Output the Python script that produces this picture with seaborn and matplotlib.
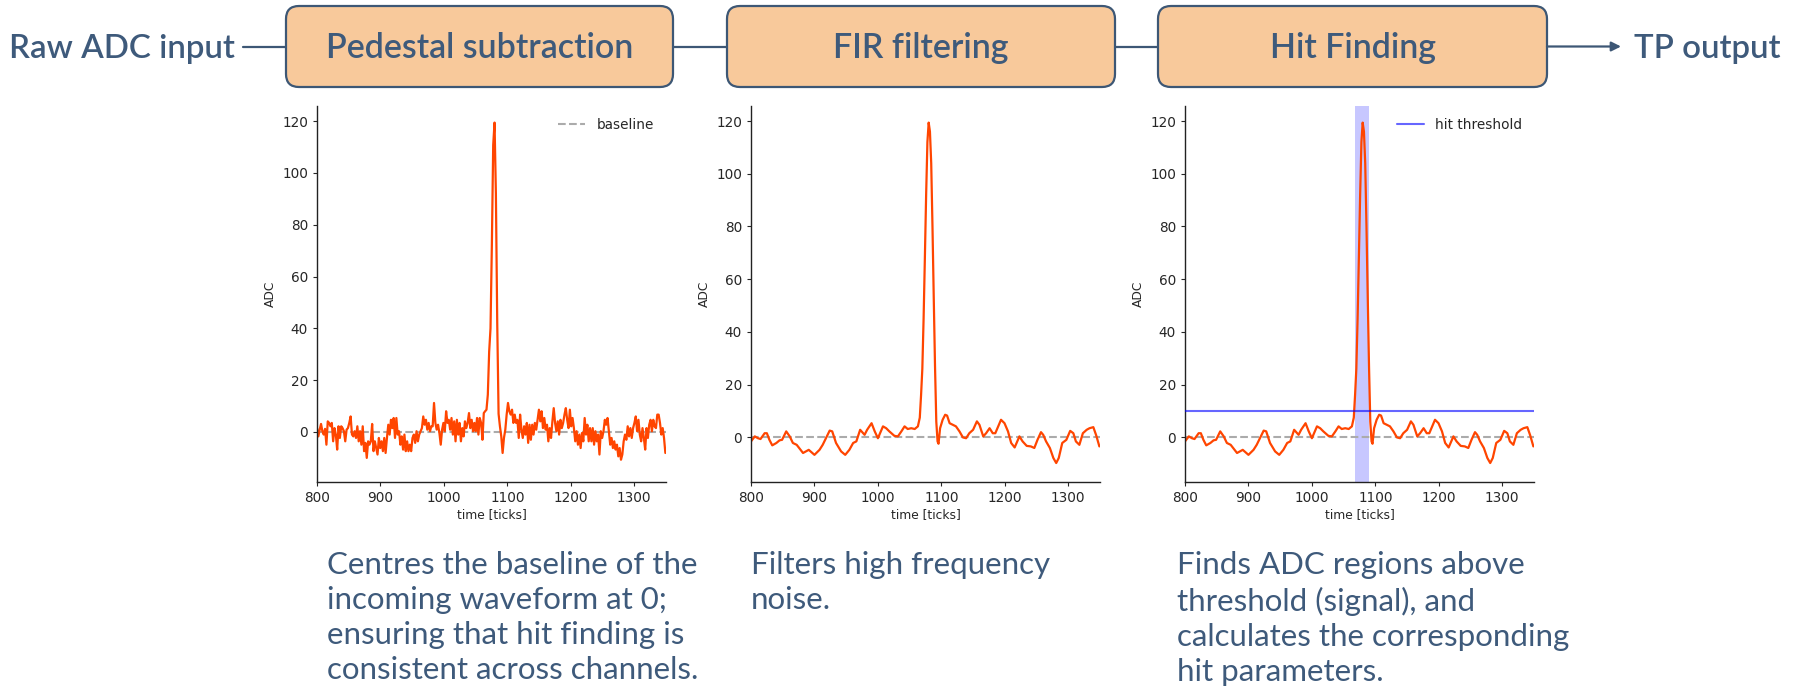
import numpy as np
import matplotlib
matplotlib.use("Agg")
import matplotlib.pyplot as plt
from matplotlib.patches import FancyBboxPatch
import seaborn as sns

# ---------------------------------------------------------------------------
# Data
# ---------------------------------------------------------------------------
# Pedestal-subtracted ADC samples, evenly spread over ticks 800-1349
raw_adc = [
    1.5, -1.7, 0.9, 3.1, 0.3, -1.0, 1.2, -4.9, 4.1, 3.5, 2.2, 3.5, -3.6,
    1.5, -1.0, -6.8, 2.2, -2.3, 2.2, 1.5, 0.3, -3.6, 0.9, 1.5,
    3.5, 6.0,
    -1.0, -1.7, 0.3, -2.3, 2.2, -3.6, 0.3, -4.9,
    2.2, -7.4, -4.2, -10.0,
    -3.6, -4.9, -3.6,
    3.1, -7.4,
    -3.6, -6.2, -8.7, -2.3, -6.2, -3.6, -7.4, -2.3, -8.1, -2.3,
    2.8, -1.0, 4.7, 1.5, 5.4, -2.3, 5.4, -1.0, 0.3, -4.9,
    -1.7, -6.8, -1.0, -7.4, -3.6, -7.4, -4.9, -7.4, -2.3, -1.0,
    -4.2, 0.3, -3.6, -1.0, 0.3, 1.5, 6.0, 2.8, 4.7, 0.9,
    3.5, 0.3, 2.2, 2.2, 11.2, 3.5, 0.9, 2.8, -0.4, -4.9,
    0.9, 3.5, 0.3, 8.0, 3.5, 4.7, 0.9, 5.4, -1.0, 4.1,
    -3.6, 4.7, -1.0, 3.5, -3.6, 1.5, -1.7, 4.1, 1.5, 3.5,
    7.3, 1.5, 4.7, 0.3, 3.5, 0.3, 5.4, -1.0, 5.4, 3.5,
    -3.0, 7.3, 8.0, 8.6, 14.4, 31.0, 40.0, 72.0, 110.7, 119.4,
    92.0, 42.0, 7.0, 2.2, -1.7, -8.1, -2.3, 0.9, 6.7, 11.2,
    8.0, 6.7, 8.6, 3.5, 6.7, 3.5, 4.7, -2.3, 6.7, 0.9,
    -2.3, 2.2, -1.0, 3.5, -4.2, 2.8, -3.0, 2.8, -1.0, 3.5,
    0.9, 4.7, 8.6, 4.1, 8.0, 1.5, 5.4, 0.9, 2.8, -3.6,
    1.5, -2.3, 4.1, 9.2, 3.5, 0.3, 4.1, -1.0, 4.7, 1.5,
    3.5, 6.7, 9.2, 4.7, 1.5, 8.6, 2.2, 5.4, 1.5, -3.6,
    0.3, -4.9, -1.0, -6.2, -0.4, -3.6, 5.4, -1.0, 2.8, -3.6,
    1.5, -3.6, 1.5, -4.9, 0.3, -3.6, -1.0, -8.7, 0.3, -2.3,
    0.3, 4.7, 2.8, 5.4, 0.3, -4.9, -2.3, -6.2, -3.6, -6.8,
    -4.9, -9.4, -6.2, -10.7, -8.7, -3.6, -1.0, -3.0, 2.2, -1.7,
    1.5, -2.3, 1.5, 3.5, 6.0, 0.3, 4.7, -1.0, -3.6, 1.5,
    -2.3, -6.8, 1.5, -2.3, 2.8, 4.7, 0.3, 4.7, 2.2, 1.5,
    6.7, 6.7, 3.5, -1.0, 1.5, -2.3, -8.1,
]
raw_ticks = np.linspace(800, 1349, len(raw_adc))

# FIR-filtered waveform
filt_ticks = [
    800, 806, 811, 815, 821.5, 825, 829, 833.5, 840, 845,
    849, 855.5, 861, 866, 872, 882, 891, 900, 908, 913,
    924, 928, 934, 942, 948.5, 955, 961, 966, 972, 979,
    983, 990, 995, 1000, 1008, 1013, 1018, 1026, 1031.5, 1037,
    1042, 1047, 1052.5, 1058, 1063, 1066, 1068, 1070, 1072, 1074,
    1076, 1078, 1080, 1082, 1084, 1086, 1088, 1090, 1092, 1094,
    1095.5, 1098, 1102, 1106, 1109, 1113, 1118, 1123, 1128.5, 1134,
    1139, 1144, 1150, 1156, 1160, 1166, 1170.5, 1176, 1181, 1185,
    1194, 1199.5, 1205, 1210, 1215.5, 1223, 1228, 1234.5, 1241, 1246.5,
    1251.5, 1257, 1260.5, 1265, 1271, 1276.5, 1281, 1285, 1290.5, 1297,
    1303, 1308, 1312, 1317.5, 1323, 1329, 1333.5, 1339.5, 1344, 1349,
]
filt_adc = [
    -1.5, 0.4, -0.3, -0.6, 1.6, 1.6, -0.9, -3.0, -2.1, -1.1,
    -0.9, 2.3, 0.4, -2.1, -2.8, -5.9, -4.7, -6.6, -4.7, -2.8,
    2.6, 2.3, -2.1, -5.3, -6.6, -4.7, -2.1, -1.5, 2.9, 1.0,
    2.9, 5.4, 2.3, -0.3, 4.2, 3.5, 2.3, 0.6, 0.4, 2.3,
    4.2, 3.2, 3.5, 3.2, 4.2, 7.5, 16.0, 26.0, 45.0, 68.0,
    92.0, 112.0, 119.4, 116.0, 104.0, 80.0, 53.0, 27.0, 6.0, -1.5,
    -2.4, 3.5, 6.7, 8.6, 8.3, 5.4, 4.8, 4.2, 2.3, 0.0,
    -0.3, 1.6, 2.9, 6.1, 4.8, 0.4, 1.6, 3.5, 1.6, 1.6,
    6.7, 5.4, 2.3, -2.1, -3.8, 0.4, -1.5, -3.2, -3.4, -4.0,
    -0.9, 2.0, 1.0, -1.5, -4.0, -7.8, -9.7, -7.8, -2.1, -0.9,
    2.5, 1.6, -1.5, -2.8, 1.6, 2.9, 3.5, 3.9, 0.8, -3.4,
]

baseline_level = 0
hit_threshold = 10
hit_window = (1068, 1090)

x_ticks = [800, 900, 1000, 1100, 1200, 1300]
y_ticks = [0, 20, 40, 60, 80, 100, 120]

input_label = "Raw ADC input"
output_label = "TP output"
stage_names = ["Pedestal subtraction", "FIR filtering", "Hit Finding"]
stage_notes = [
    "Centres the baseline of the\nincoming waveform at 0;\nensuring that hit finding is\nconsistent across channels.",
    "Filters high frequency\nnoise.",
    "Finds ADC regions above\nthreshold (signal), and\ncalculates the corresponding\nhit parameters.",
]

# ---------------------------------------------------------------------------
# Style
# ---------------------------------------------------------------------------
sns.set_style("ticks")
plt.rcParams["font.family"] = ["DejaVu Sans"]
plt.rcParams["xtick.labelsize"] = 9.8
plt.rcParams["ytick.labelsize"] = 9.8
plt.rcParams["axes.labelsize"] = 8.8
plt.rcParams["xtick.major.size"] = 3
plt.rcParams["ytick.major.size"] = 3
plt.rcParams["axes.edgecolor"] = "#222222"
plt.rcParams["axes.linewidth"] = 1.0

W, H = 1798, 686
fig = plt.figure(figsize=(W / 100, H / 100), dpi=100)

WAVE = "#FF4500"
BASE = "#ababab"
INK = "#3E5A7B"
BOX_EDGE = "#3D5775"
BOX_FILL = "#F8C99B"
UI_FONT = "Lato"

# Axes rectangles in pixels: left, right, top, bottom
panels_px = [(317, 666, 106, 482), (751, 1100, 106, 482), (1185, 1534, 106, 482)]
ylims = [(-19.3, 125.8), (-16.9, 125.7), (-16.9, 125.7)]

axes = []
for (l, r, t, b) in panels_px:
    ax = fig.add_axes([l / W, 1 - b / H, (r - l) / W, (b - t) / H])
    axes.append(ax)

for i, ax in enumerate(axes):
    ax.axhline(baseline_level, color=BASE, ls="--", lw=1.5,
               label="baseline" if i == 0 else None, zorder=1)
    if i == 0:
        sns.lineplot(x=raw_ticks, y=raw_adc, ax=ax, color=WAVE, lw=1.6,
                     estimator=None, sort=False, zorder=2)
    else:
        sns.lineplot(x=filt_ticks, y=filt_adc, ax=ax, color=WAVE, lw=1.6,
                     estimator=None, sort=False, zorder=2)
    if i == 2:
        ax.axhline(hit_threshold, color="blue", alpha=0.6, lw=1.5,
                   label="hit threshold", zorder=3)
        ax.axvspan(*hit_window, color="blue", alpha=0.22, lw=0, zorder=0)
    ax.set_xlim(800, 1350)
    ax.set_ylim(*ylims[i])
    ax.set_xticks(x_ticks)
    ax.set_yticks(y_ticks)
    ax.set_xlabel("time [ticks]", labelpad=2)
    ax.set_ylabel("ADC")
    sns.despine(ax=ax)
    if i in (0, 2):
        handles, labels = ax.get_legend_handles_labels()
        keep = [(h, lb) for h, lb in zip(handles, labels)
                if lb in ("baseline", "hit threshold")]
        ax.legend([k[0] for k in keep], [k[1] for k in keep],
                  loc="upper right", frameon=False, fontsize=9.8)
    else:
        if ax.get_legend() is not None:
            ax.get_legend().remove()

# ---------------------------------------------------------------------------
# Flow diagram overlay in pixel units
# ---------------------------------------------------------------------------
ov = fig.add_axes([0, 0, 1, 1], facecolor="none")
ov.set_xlim(0, W)
ov.set_ylim(H, 0)
ov.axis("off")

boxes_px = [(286, 673), (727, 1115), (1158, 1547)]
box_top, box_bot = 6, 87
yc = (box_top + box_bot) / 2

for (x0, x1), name in zip(boxes_px, stage_names):
    ov.add_patch(FancyBboxPatch((x0, box_top), x1 - x0, box_bot - box_top,
                                boxstyle="round,pad=0,rounding_size=13",
                                fc=BOX_FILL, ec=BOX_EDGE, lw=1.6, zorder=2))
    ov.text((x0 + x1) / 2, yc + 2, name, ha="center", va="center",
            fontsize=24.5, color=INK, family=UI_FONT, weight="semibold", zorder=3)

ov.text(9, yc + 2, input_label, ha="left", va="center", fontsize=23.8,
        color=INK, family=UI_FONT, weight="semibold")
ov.text(1634, yc + 2, output_label, ha="left", va="center", fontsize=23.8,
        color=INK, family=UI_FONT, weight="semibold")

ov.plot([243, boxes_px[0][0]], [yc, yc], color=BOX_EDGE, lw=1.6, zorder=1)
ov.plot([boxes_px[0][1], boxes_px[1][0]], [yc, yc], color=BOX_EDGE, lw=1.6, zorder=1)
ov.plot([boxes_px[1][1], boxes_px[2][0]], [yc, yc], color=BOX_EDGE, lw=1.6, zorder=1)
ov.annotate("", xy=(1621, yc), xytext=(boxes_px[2][1], yc),
            arrowprops=dict(arrowstyle="-|>", color=BOX_EDGE, lw=1.6,
                            mutation_scale=14, shrinkA=0, shrinkB=0))

notes_x = [327, 751, 1177]
for x, note in zip(notes_x, stage_notes):
    ov.text(x, 551, note, ha="left", va="top", fontsize=22.5, color=INK,
            family=UI_FONT, weight="normal", linespacing=1.31)

fig.savefig("out.png", dpi=100)
